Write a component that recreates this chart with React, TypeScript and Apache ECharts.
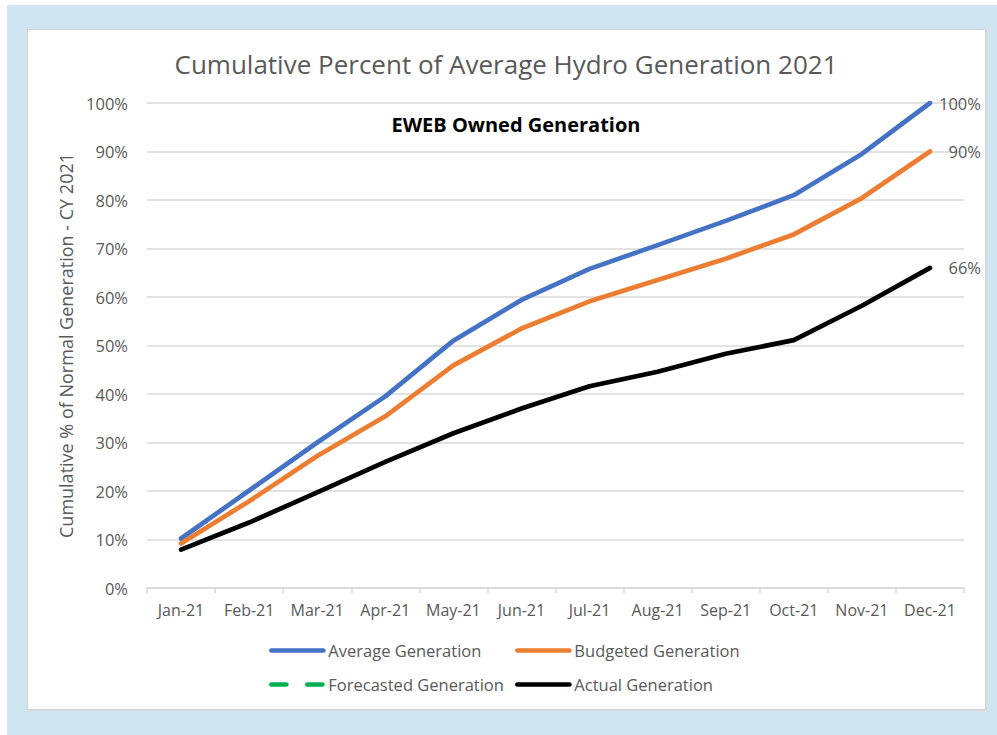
import React, { useEffect, useRef } from "react";
import * as echarts from "echarts";

const categories = ["Jan-21", "Feb-21", "Mar-21", "Apr-21", "May-21", "Jun-21", "Jul-21", "Aug-21", "Sep-21", "Oct-21", "Nov-21", "Dec-21"];
const averageGeneration = [10.2, 20.1, 30.0, 39.5, 51.0, 59.4, 65.8, 70.7, 75.7, 81.0, 89.5, 100];
const budgetedGeneration = [9.2, 17.9, 27.2, 35.4, 45.9, 53.5, 59.1, 63.5, 67.9, 72.9, 80.4, 90];
const forecastedGeneration: (number | null)[] = [null, null, null, null, null, null, null, null, null, null, null, null];
const actualGeneration = [7.9, 13.5, 19.7, 26.0, 31.9, 37.0, 41.6, 44.6, 48.3, 51.1, 58.2, 66];
const yTicks = [0, 10, 20, 30, 40, 50, 60, 70, 80, 90, 100];

const FONT = "'Open Sans', Lato, sans-serif";
const GRAY = "#595959";

export default function App() {
  const ref = useRef<HTMLDivElement>(null);
  useEffect(() => {
    if (!ref.current) return;
    const chart = echarts.init(ref.current, undefined, { renderer: "svg" });
    const endLabel = {
      show: true,
      formatter: (p: any) => Math.round(p.value) + "%",
      color: GRAY,
      fontFamily: FONT,
      fontSize: 16.5,
      align: "right",
      distance: 51,
    };
    const mk = (name: string, data: any[], color: string, dashed = false, withLabel = true) => ({
      name,
      type: "line",
      data,
      symbol: "none",
      smooth: false,
      lineStyle: { color, width: 4.7, cap: "round", join: "round", type: dashed ? [15, 21] : "solid" },
      itemStyle: { color },
      endLabel: withLabel ? endLabel : { show: false },
    });
    const legendCommon = {
      orient: "vertical",
      top: 642,
      padding: 0,
      itemWidth: 52,
      itemHeight: 4,
      itemGap: 17,
      itemStyle: { opacity: 0 },
      lineStyle: { width: 4.7, cap: "round" },
      textStyle: { color: GRAY, fontSize: 16.5, fontFamily: FONT },
      selectedMode: false,
    };
    chart.setOption({
      animation: false,
      textStyle: { fontFamily: FONT },
      grid: { left: 147, right: 33, top: 103, bottom: 147, containLabel: false },
      graphic: [
        {
          type: "text",
          x: 506,
          y: 64,
          style: {
            text: "Cumulative Percent of Average Hydro Generation 2021",
            font: `26px ${FONT}`,
            fill: GRAY,
            align: "center",
            verticalAlign: "middle",
          },
        },
        {
          type: "text",
          x: 516,
          y: 124,
          style: {
            text: "EWEB Owned Generation",
            font: `bold 20px ${FONT}`,
            fill: "#000000",
            align: "center",
            verticalAlign: "middle",
          },
        },
      ],
      legend: [
        { ...legendCommon, data: ["Average Generation", "Forecasted Generation"], left: 269 },
        { ...legendCommon, data: ["Budgeted Generation", "Actual Generation"], left: 515 },
      ],
      xAxis: {
        type: "category",
        data: categories,
        boundaryGap: true,
        axisLine: { lineStyle: { color: "#d9d9d9", width: 1.5 } },
        axisTick: { show: true, length: 5, interval: 0, lineStyle: { color: "#d9d9d9", width: 1.5 } },
        axisLabel: { color: GRAY, fontSize: 16, fontFamily: FONT, margin: 14, interval: 0, hideOverlap: false },
      },
      yAxis: {
        type: "value",
        min: yTicks[0],
        max: yTicks[yTicks.length - 1],
        interval: 10,
        name: "Cumulative % of Normal Generation - CY 2021",
        nameLocation: "middle",
        nameGap: 62,
        nameTextStyle: { color: GRAY, fontSize: 18, fontFamily: FONT },
        axisLine: { show: false },
        axisTick: { show: false },
        axisLabel: { color: GRAY, fontSize: 16.5, fontFamily: FONT, margin: 19, formatter: (v: number) => v + "%" },
        splitLine: { lineStyle: { color: "#d9d9d9", width: 1.5 } },
      },
      series: [
        mk("Average Generation", averageGeneration, "#4472C4"),
        mk("Budgeted Generation", budgetedGeneration, "#ED7D31"),
        mk("Forecasted Generation", forecastedGeneration, "#00B050", true, false),
        mk("Actual Generation", actualGeneration, "#000000"),
      ],
    });
    return () => chart.dispose();
  }, []);

  return (
    <div style={{ position: "fixed", left: 0, top: 0, width: 997, height: 735, background: "#ffffff", overflow: "hidden" }}>
      <div style={{ position: "absolute", left: 7, top: 5, width: 990, height: 730, background: "#cfe5f2" }} />
      <div
        style={{
          position: "absolute",
          left: 27,
          top: 29,
          width: 957,
          height: 679,
          background: "#ffffff",
          border: "1px solid #d4d4d4",
          boxShadow: "1px 1px 1px #d9d9d9",
        }}
      />
      <div ref={ref} style={{ position: "absolute", left: 0, top: 0, width: 997, height: 735 }} />
    </div>
  );
}
